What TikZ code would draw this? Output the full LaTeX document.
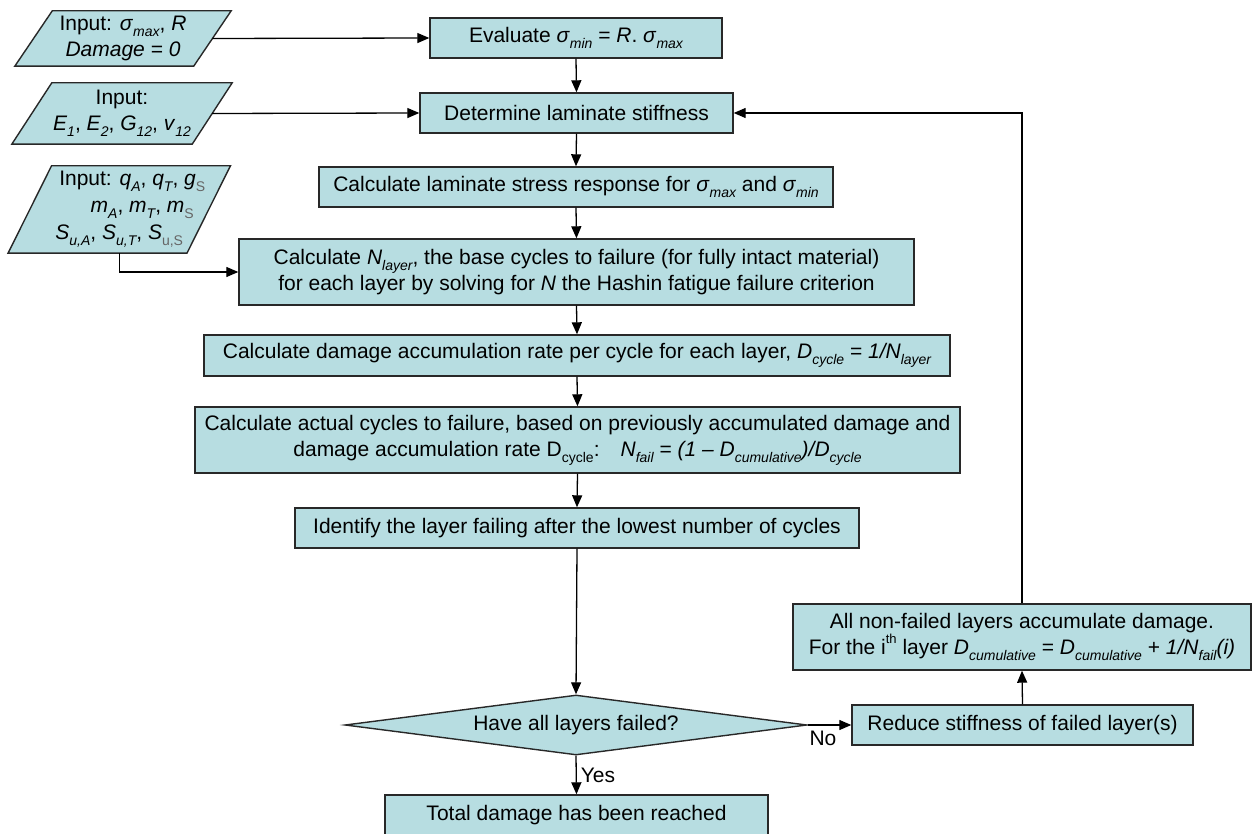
\documentclass[tikz,border=0pt]{standalone}
\usepackage{fontspec}
\setmainfont{Liberation Sans}
\usetikzlibrary{shapes.geometric,arrows.meta,calc,backgrounds}
\definecolor{boxfill}{RGB}{183,221,225}
\definecolor{edgecol}{RGB}{40,40,40}
\newcommand{\sbs}[1]{\raisebox{-0.3em}{\fontsize{14}{14}\selectfont\itshape #1}}
\newcommand{\sbsu}[1]{\raisebox{-0.3em}{\fontsize{14}{14}\selectfont #1}}
\newcommand{\sbsg}[1]{\raisebox{-0.3em}{\fontsize{14}{14}\selectfont\color{black!60}#1}}
\newcommand{\sps}[1]{\raisebox{0.5em}{\fontsize{13}{13}\selectfont #1}}
\newcommand{\paraframe}[2]{%
  \draw[paraline] ($(#1.south west)+(-#2/2,0)$) -- ($(#1.south east)+(-#2/2,0)$)
    -- ($(#1.north east)+(#2/2,0)$) -- ($(#1.north west)+(#2/2,0)$) -- cycle;}
\begin{document}
\begin{tikzpicture}[x=1pt,y=-1pt,
  font=\fontsize{21}{26}\selectfont,
  procbox/.style={draw=edgecol,line width=1.4pt,fill=boxfill,rectangle,inner sep=0pt,align=center},
  inbox/.style={rectangle,inner sep=0pt,align=center},
  paraline/.style={draw=edgecol,line width=1.4pt,fill=boxfill,line join=miter},
  decbox/.style={draw=edgecol,line width=1.4pt,fill=boxfill,diamond,inner sep=0pt,aspect=7.7},
  conn/.style={draw=black,line width=1.3pt,-{Triangle[length=12pt,width=10pt]}},
  lbl/.style={inner sep=1pt}]
\useasboundingbox (0,0) rectangle (1253,834);

% inputs
\node[inbox,minimum width=178.5pt,minimum height=55pt] (in1) at (123,38.5)
  {Input: \textit{σ}\sbs{max}, \textit{R}\\ \textit{Damage = 0}};
\node[inbox,minimum width=180pt,minimum height=61pt] (in2) at (122,113.5)
  {Input:\\ \textit{E}\sbs{1}, \textit{E}\sbs{2}, \textit{G}\sbs{12}, \textit{v}\sbs{12}};
\node[inbox,minimum width=178.5pt,minimum height=87pt,font=\fontsize{21}{27}\selectfont] (in3) at (119.25,209.5)
  {Input: \textit{q}\sbs{A}, \textit{q}\sbs{T}, \textit{g}\sbsg{S}\kern-26pt\relax\\
   \textit{m}\sbs{A}, \textit{m}\sbs{T}, \textit{m}\sbsg{S}\kern-46pt\relax\\
   \textit{S}\sbs{u,A}, \textit{S}\sbs{u,T}, \textit{S}\sbsg{u,S}};
\begin{scope}[on background layer]
  \paraframe{in1}{37.5}
  \paraframe{in2}{40}
  \paraframe{in3}{43.5}
\end{scope}

% main column
\node[procbox,minimum width=292pt,minimum height=40pt] (eval) at (576,38)
  {Evaluate \textit{σ}\sbs{min} = \textit{R}. \textit{σ}\sbs{max}};
\node[procbox,minimum width=313pt,minimum height=40pt] (det) at (576.5,113)
  {Determine laminate stiffness};
\node[procbox,minimum width=514pt,minimum height=40pt] (stress) at (576,187)
  {Calculate laminate stress response for \textit{σ}\sbs{max} and \textit{σ}\sbs{min}};
\node[procbox,minimum width=675pt,minimum height=66pt] (calcN) at (576.5,272)
  {Calculate \textit{N}\sbs{layer}, the base cycles to failure (for fully intact material)\\
   for each layer by solving for \textit{N} the Hashin fatigue failure criterion};
\node[procbox,minimum width=746pt,minimum height=41pt] (dmg) at (577,355.5)
  {Calculate damage accumulation rate per cycle for each layer, \textit{D}\sbs{cycle} = \textit{1/N}\sbs{layer}};
\node[procbox,minimum width=765pt,minimum height=66pt] (actual) at (577.5,440)
  {Calculate actual cycles to failure, based on previously accumulated damage and\\
   damage accumulation rate D\sbsu{cycle}:\quad \textit{N}\sbs{fail} = \textit{(1 – D}\sbs{cumulative}\textit{)/D}\sbs{cycle}};
\node[procbox,minimum width=564pt,minimum height=40pt] (ident) at (577,528)
  {Identify the layer failing after the lowest number of cycles};
\node[decbox,minimum width=462pt,minimum height=60pt] (dec) at (576,725)
  {Have all layers failed?};
\node[procbox,minimum width=383pt,minimum height=40pt] (total) at (576.5,815)
  {Total damage has been reached};
\node[procbox,minimum width=341pt,minimum height=40pt] (reduce) at (1022.5,725)
  {Reduce stiffness of failed layer(s)};
\node[procbox,minimum width=458pt,minimum height=66pt] (all) at (1022,637)
  {All non-failed layers accumulate damage.\\
   For the i\sps{th} layer \textit{D}\sbs{cumulative} = \textit{D}\sbs{cumulative} + \textit{1/N}\sbs{fail}\textit{(i)}};

% connectors
\draw[conn] (in1.east) -- (eval.west);
\draw[conn] (eval.south) -- (det.north);
\draw[conn] (in2.east) -- (det.west);
\draw[conn] (det.south) -- (stress.north);
\draw[conn] (stress.south) -- (calcN.north);
\draw[conn] (in3.south) |- (calcN.west);
\draw[conn] (calcN.south) -- (dmg.north);
\draw[conn] (dmg.south) -- (actual.north);
\draw[conn] (actual.south) -- (ident.north);
\draw[conn] (ident.south) -- (dec.north);
\draw[conn] (dec.south) -- node[lbl,right,pos=0.45,xshift=3pt,yshift=-2pt]{Yes} (total.north);
\draw[conn] (dec.east) -- node[lbl,below,pos=0.35,yshift=-4pt]{No} (reduce.west);
\draw[conn] (reduce.north) -- (all.south);
\draw[conn] (all.north) |- (det.east);
\end{tikzpicture}
\end{document}
